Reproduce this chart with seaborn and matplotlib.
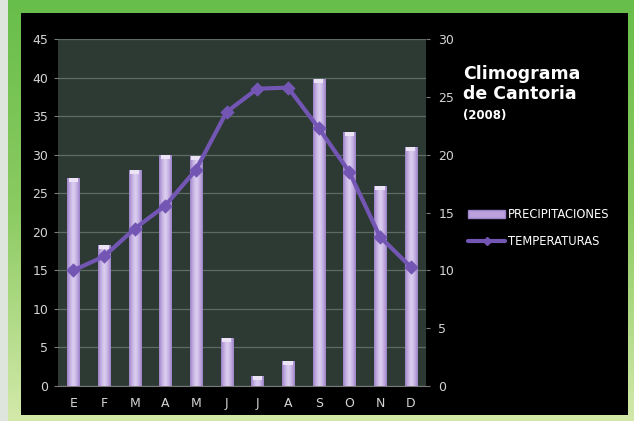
import numpy as np
import pandas as pd
import matplotlib
matplotlib.use("Agg")
import matplotlib.pyplot as plt
from matplotlib.patches import Rectangle, Patch
from matplotlib.lines import Line2D
from matplotlib.colors import LinearSegmentedColormap
import seaborn as sns

# Data
months = ["Ene", "Feb", "Mar", "Abr", "May", "Jun", "Jul", "Ago", "Sep", "Oct", "Nov", "Dic"]
month_labels = ["E", "F", "M", "A", "M", "J", "J", "A", "S", "O", "N", "D"]
precipitaciones = [27.0, 18.3, 28.0, 30.0, 29.8, 6.2, 1.3, 3.3, 39.8, 33.0, 26.0, 31.0]
temperaturas = [10.0, 11.2, 13.6, 15.6, 18.7, 23.7, 25.7, 25.8, 22.3, 18.5, 12.9, 10.3]

BAR_COLOR = "#bba2dc"
LINE_COLOR = "#7356b3"
TEXT_COLOR = "#d4d4d4"

df = pd.DataFrame({"Mes": months, "Precip": precipitaciones, "Temp": temperaturas})

sns.set_style("dark")
plt.rcParams["font.family"] = ["DejaVu Sans"]

W, H = 634, 421
fig = plt.figure(figsize=(W / 100, H / 100), dpi=100)

# background frame: green at top fading to pale yellow-green at bottom
bg = fig.add_axes([0, 0, 1, 1], zorder=-10)
frame_cmap = LinearSegmentedColormap.from_list("frame", ["#68be4a", "#8ccb62", "#d3e9aa"])
bg.imshow(np.linspace(0, 1, 256).reshape(-1, 1), aspect="auto", cmap=frame_cmap,
          extent=(0, 1, 0, 1), origin="upper")
bg.add_patch(Rectangle((0, 0), 8 / W, 1, facecolor="#dde5dd", edgecolor="none"))
bg.add_patch(Rectangle((21 / W, 6 / H), 607 / W, 402 / H, facecolor="black", edgecolor="none"))
bg.set_xlim(0, 1)
bg.set_ylim(0, 1)
bg.axis("off")

ax = fig.add_axes([58 / W, 35 / H, 368 / W, 347 / H])
ax.set_facecolor("#2c3a33")

sns.barplot(data=df, x="Mes", y="Precip", ax=ax, color=BAR_COLOR,
            width=0.4, saturation=1, edgecolor="none", zorder=3)

# soft cylinder shading on each bar
shade = LinearSegmentedColormap.from_list(
    "shade", ["#9c82c6", "#c6b2e4", "#ddd0ef", "#c6b2e4", "#9c82c6"])
for bar in ax.patches:
    x0, y0 = bar.get_x(), bar.get_y()
    w, h = bar.get_width(), bar.get_height()
    im = ax.imshow(np.linspace(0, 1, 64).reshape(1, -1), cmap=shade, aspect="auto",
                   extent=(x0, x0 + w, y0, y0 + h), zorder=3.5, interpolation="bilinear")
    im.set_clip_path(bar)
    cap = min(0.55, h * 0.4)
    ax.add_patch(Rectangle((x0 + w * 0.12, y0 + h - cap), w * 0.76, cap,
                           facecolor="#ece4f6", edgecolor="none", zorder=3.6))

ax.set_ylim(0, 45)
ax.set_yticks(range(0, 46, 5))
ax.set_xlim(-0.5, 11.5)
ax.set_xticks(range(12))
ax.set_xticklabels(month_labels)
ax.set_xlabel("")
ax.set_ylabel("")
ax.grid(axis="y", color="#5d6c63", linewidth=0.9, zorder=0)
ax.grid(axis="x", visible=False)
ax.set_axisbelow(True)

ax2 = ax.twinx()
sns.pointplot(data=df, x="Mes", y="Temp", ax=ax2, color=LINE_COLOR,
              markers="D", markersize=5.5, linewidth=3, zorder=4)
ax2.set_ylim(0, 30)
ax2.set_yticks(range(0, 31, 5))
ax2.set_ylabel("")
ax2.set_xlim(-0.5, 11.5)
ax2.grid(False)

for a in (ax, ax2):
    for s in a.spines.values():
        s.set_visible(False)
    a.tick_params(colors=TEXT_COLOR, labelsize=9, length=3, width=0.8)
ax.tick_params(axis="x", length=0, pad=8)
ax.spines["bottom"].set_visible(True)
ax.spines["bottom"].set_color("#7a7a7a")
ax2.tick_params(axis="y", colors="#7a7a7a", labelcolor=TEXT_COLOR, pad=6)
ax.tick_params(axis="y", colors="#7a7a7a", labelcolor=TEXT_COLOR, pad=4)

# title
fig.text(463 / W, 1 - 84 / H, "Climograma\nde Cantoria", color="white",
         fontsize=12.5, fontweight="bold", va="center", ha="left", linespacing=1.2)
fig.text(463 / W, 1 - 115 / H, "(2008)", color="white", fontsize=8.5,
         fontweight="bold", va="center", ha="left")

handles = [Patch(facecolor=BAR_COLOR, edgecolor="#9c82c6"),
           Line2D([0], [0], color=LINE_COLOR, lw=3, marker="D", markersize=4.5)]
fig.legend(handles, ["PRECIPITACIONES", "TEMPERATURAS"], loc="upper left",
           bbox_to_anchor=(458 / W, 1 - 198 / H), frameon=False,
           labelcolor="white", fontsize=8.3, handlelength=3.2, handletextpad=0.2,
           labelspacing=1.2)

fig.savefig("out.png", dpi=100)
